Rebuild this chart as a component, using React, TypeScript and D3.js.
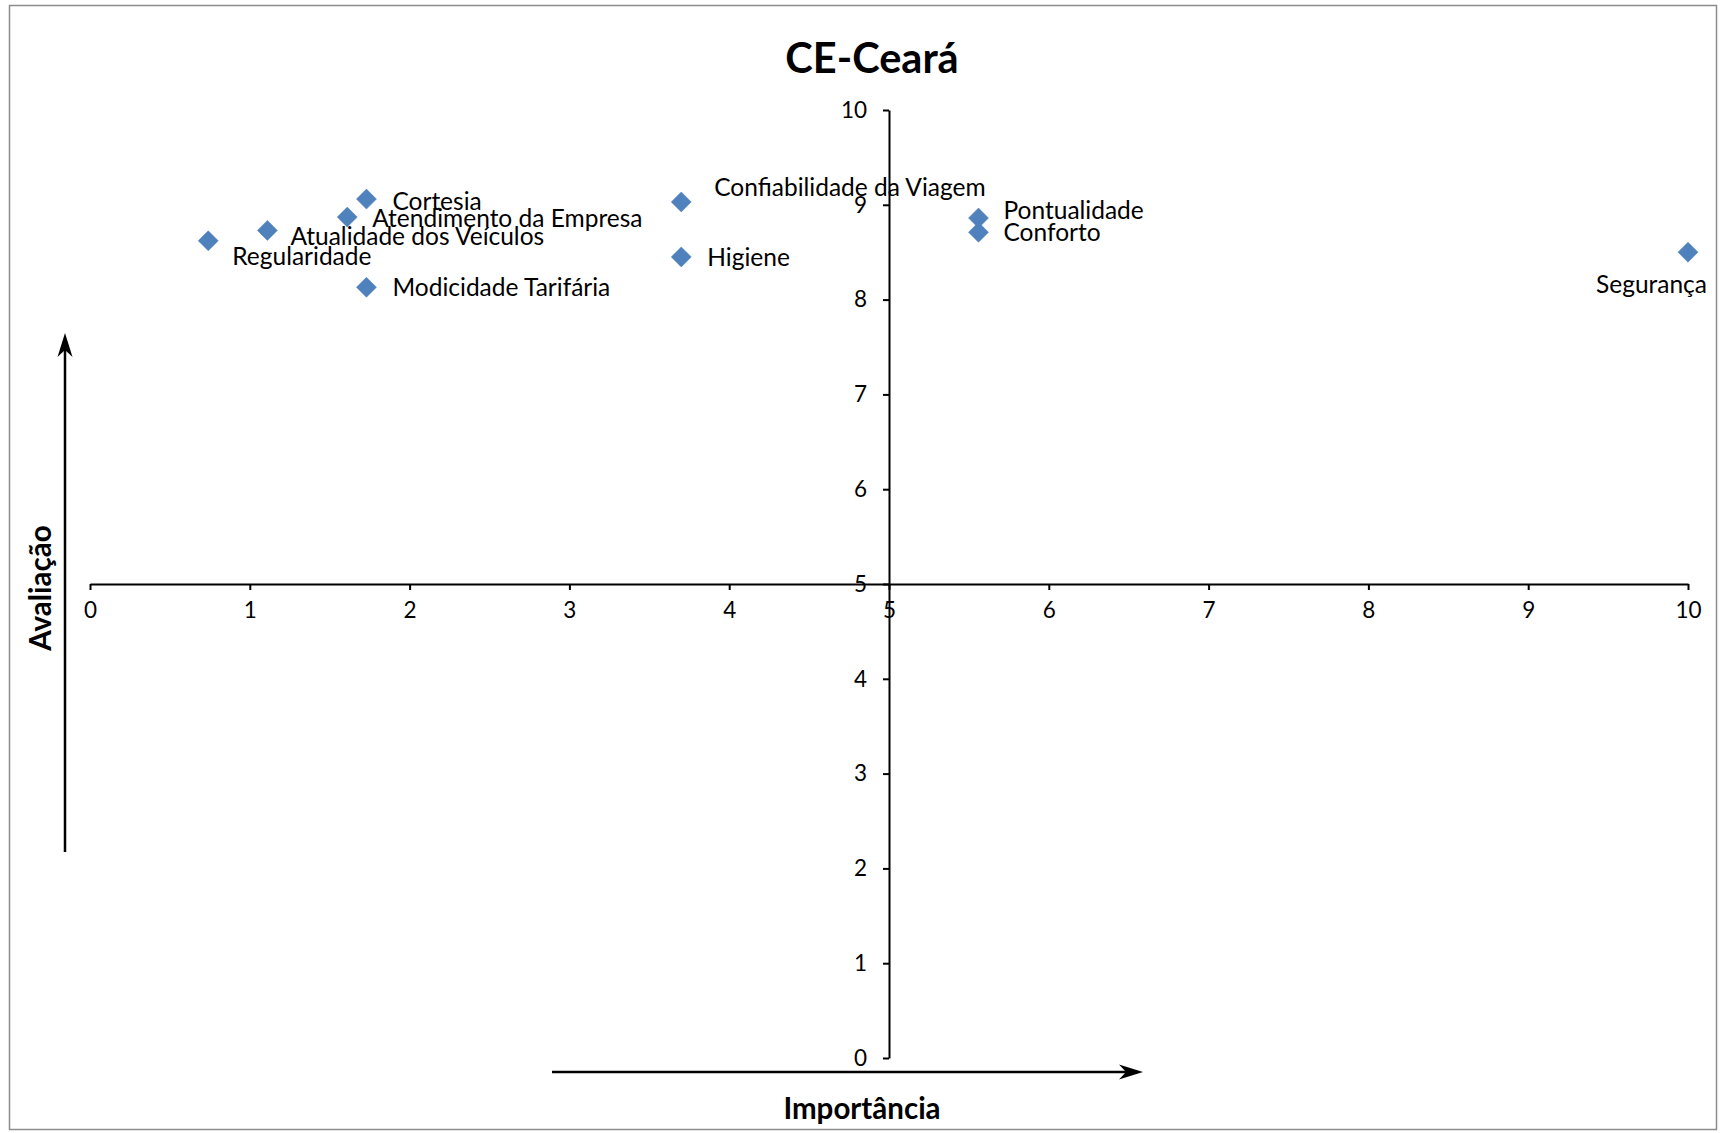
import React, { useEffect, useRef } from "react";
import * as d3 from "d3";

const categories = [
  "Regularidade",
  "Atualidade dos Veículos",
  "Atendimento da Empresa",
  "Cortesia",
  "Modicidade Tarifária",
  "Confiabilidade da Viagem",
  "Higiene",
  "Pontualidade",
  "Conforto",
  "Segurança",
];
const importancia = [0.74, 1.11, 1.61, 1.73, 1.73, 3.70, 3.70, 5.56, 5.56, 10.0];
const avaliacao = [8.62, 8.73, 8.87, 9.06, 8.13, 9.03, 8.45, 8.86, 8.71, 8.50];
const tickValues = [0, 1, 2, 3, 4, 5, 6, 7, 8, 9, 10];

const title = "CE-Ceará";
const xTitle = "Importância";
const yTitle = "Avaliação";

// label placement (layout only): offset from marker to text start / baseline
const labelLayout: { dx: number; dy: number; anchor: string }[] = [
  { dx: 24, dy: 24, anchor: "start" },
  { dx: 23, dy: 15, anchor: "start" },
  { dx: 25, dy: 10, anchor: "start" },
  { dx: 26, dy: 11, anchor: "start" },
  { dx: 26, dy: 9, anchor: "start" },
  { dx: 33, dy: -6, anchor: "start" },
  { dx: 26, dy: 9, anchor: "start" },
  { dx: 25, dy: 1, anchor: "start" },
  { dx: 25, dy: 9, anchor: "start" },
  { dx: 19, dy: 41, anchor: "end" },
];

const W = 1725;
const H = 1133;
const FONT = "Lato, 'Open Sans', sans-serif";

export default function App() {
  const ref = useRef<SVGSVGElement>(null);

  useEffect(() => {
    const svg = d3.select(ref.current);
    svg.selectAll("*").remove();

    svg.append("rect").attr("x", 0).attr("y", 0).attr("width", W).attr("height", H).attr("fill", "#fff");
    svg
      .append("rect")
      .attr("x", 9.5)
      .attr("y", 5.5)
      .attr("width", 1707)
      .attr("height", 1124)
      .attr("fill", "#fff")
      .attr("stroke", "#8c8c8c")
      .attr("stroke-width", 1.5);

    const x = d3.scaleLinear().domain([0, 10]).range([90, 1688]);
    const y = d3.scaleLinear().domain([0, 10]).range([1058, 110]);

    // title
    svg
      .append("text")
      .attr("x", 872)
      .attr("y", 73)
      .attr("text-anchor", "middle")
      .attr("font-family", FONT)
      .attr("font-weight", "bold")
      .attr("font-size", 41.5)
      .attr("fill", "#000")
      .text(title);

    // x axis (crossing at y=5)
    const xAxis = d3.axisBottom(x).tickValues(tickValues).tickSize(6).tickSizeOuter(0).tickPadding(12).tickFormat(d3.format("d"));
    const gx = svg.append("g").attr("transform", `translate(0,${y(5)})`).call(xAxis);
    gx.select(".domain").attr("stroke", "#000").attr("stroke-width", 2);
    gx.selectAll(".tick line").attr("stroke", "#000").attr("stroke-width", 2);
    gx.selectAll(".tick text").attr("font-family", FONT).attr("font-size", 22.5).attr("fill", "#000");

    // y axis (crossing at x=5)
    const yAxis = d3.axisLeft(y).tickValues(tickValues).tickSize(6).tickSizeOuter(0).tickPadding(16).tickFormat(d3.format("d"));
    const gy = svg.append("g").attr("transform", `translate(${x(5)},0)`).call(yAxis);
    gy.select(".domain").attr("stroke", "#000").attr("stroke-width", 2);
    gy.selectAll(".tick line").attr("stroke", "#000").attr("stroke-width", 2);
    gy.selectAll(".tick text").attr("font-family", FONT).attr("font-size", 22.5).attr("fill", "#000");

    // points
    const sym = d3.symbol().type(d3.symbolSquare).size(200);
    const pts = categories.map((c, i) => ({ c, xv: importancia[i], yv: avaliacao[i], l: labelLayout[i] }));
    svg
      .append("g")
      .selectAll("path")
      .data(pts)
      .join("path")
      .attr("d", sym as any)
      .attr("transform", (d) => `translate(${x(d.xv)},${y(d.yv)}) rotate(45)`)
      .attr("fill", "#4F81BD")
      .attr("stroke", "#4F81BD")
      .attr("stroke-width", 0.5);

    svg
      .append("g")
      .selectAll("text")
      .data(pts)
      .join("text")
      .attr("x", (d) => x(d.xv) + d.l.dx)
      .attr("y", (d) => y(d.yv) + d.l.dy)
      .attr("text-anchor", (d) => d.l.anchor)
      .attr("font-family", FONT)
      .attr("font-size", 24.5)
      .attr("fill", "#000")
      .text((d) => d.c);

    // arrows
    const ah = (tx: number, ty: number, dir: "up" | "right") => {
      const L = 24, Wd = 7.5, ind = 17;
      if (dir === "up")
        return `M${tx},${ty} L${tx + Wd},${ty + L} L${tx},${ty + ind} L${tx - Wd},${ty + L} Z`;
      return `M${tx},${ty} L${tx - L},${ty - Wd} L${tx - ind},${ty} L${tx - L},${ty + Wd} Z`;
    };
    svg.append("line").attr("x1", 65).attr("y1", 852).attr("x2", 65).attr("y2", 345).attr("stroke", "#000").attr("stroke-width", 2.5);
    svg.append("path").attr("d", ah(65, 333, "up")).attr("fill", "#000");
    svg.append("line").attr("x1", 552).attr("y1", 1072).attr("x2", 1130).attr("y2", 1072).attr("stroke", "#000").attr("stroke-width", 2.5);
    svg.append("path").attr("d", ah(1143, 1072, "right")).attr("fill", "#000");

    // axis titles
    svg
      .append("text")
      .attr("x", 862)
      .attr("y", 1119)
      .attr("text-anchor", "middle")
      .attr("font-family", FONT)
      .attr("font-weight", "bold")
      .attr("font-size", 29.5)
      .attr("fill", "#000")
      .text(xTitle);
    svg
      .append("text")
      .attr("transform", `translate(51,588) rotate(-90)`)
      .attr("text-anchor", "middle")
      .attr("font-family", FONT)
      .attr("font-weight", "bold")
      .attr("font-size", 29.5)
      .attr("fill", "#000")
      .text(yTitle);
  }, []);

  return (
    <svg
      ref={ref}
      width={W}
      height={H}
      style={{ position: "absolute", left: 0, top: 0, display: "block" }}
    />
  );
}
